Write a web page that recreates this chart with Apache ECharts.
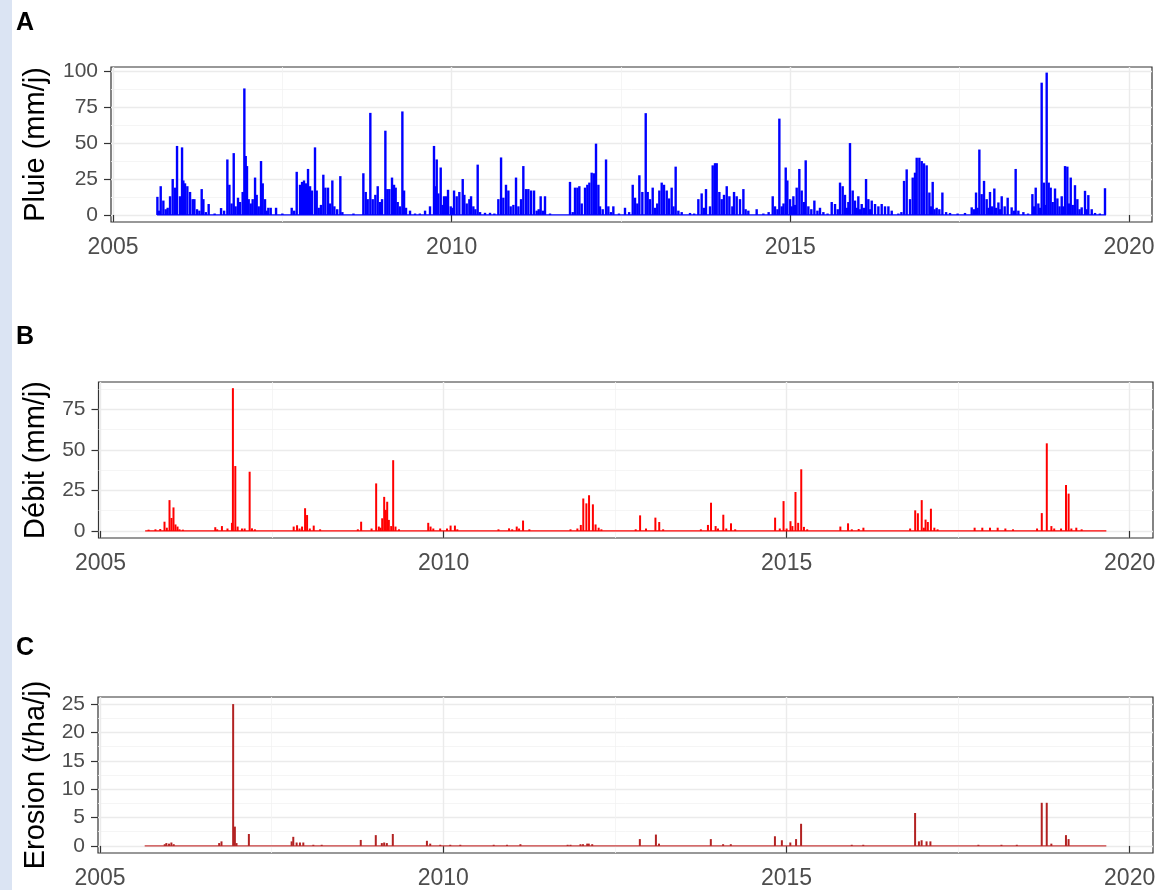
<!DOCTYPE html>
<html><head><meta charset="utf-8">
<script src="https://cdn.jsdelivr.net/npm/echarts@6/dist/echarts.min.js"></script>
<style>
html,body{margin:0;padding:0;background:#fff;}
#strip{position:absolute;left:0;top:0;width:12px;height:890px;background:#dbe4f3;}
#c{position:absolute;left:0;top:0;width:1160px;height:890px;}
</style>
</head><body><div id="strip"></div><div id="c"></div>
<script>
// ---- axes ----
const xMajorTicks = [2005, 2010, 2015, 2020];
const xMinorTicks = [2007.5, 2012.5, 2017.5];
const xRange = [2004.97, 2020.34];
const seriesSpan = [2005.65, 2019.66];   // first and last day of record (decimal years)

const panelTags = ['A', 'B', 'C'];
const yTitles = ['Pluie (mm/j)', 'Débit (mm/j)', 'Erosion (t/ha/j)'];
const yMajorA = [0, 25, 50, 75, 100], yMinorA = [12.5, 37.5, 62.5, 87.5], yRangeA = [-4.9, 102.9];
const yMajorB = [0, 25, 50, 75], yMinorB = [12.5, 37.5, 62.5, 87.5], yRangeB = [-4.35, 91.8];
const yMajorC = [0, 5, 10, 15, 20, 25], yMinorC = [2.5, 7.5, 12.5, 17.5, 22.5], yRangeC = [-1.25, 26.25];

// ---- data: [decimal year, value] ----
const rain = [
[2005.655,12.6],[2005.68,3],[2005.704,20],[2005.743,10],[2005.778,4],[2005.807,5],[2005.842,13],[2005.881,25],[2005.915,19],
[2005.945,48],[2005.989,13],[2006.019,47],[2006.038,24],[2006.063,22],[2006.097,20],[2006.137,16],[2006.176,11],
[2006.201,11],[2006.24,4],[2006.275,3],[2006.309,18],[2006.334,11],[2006.37,2],[2006.412,7.6],[2006.50,1],[2006.595,4.8],[2006.64,3],
[2006.688,38.6],[2006.718,21],[2006.75,8],[2006.782,43],[2006.81,6],[2006.845,12],
[2006.875,9],[2006.914,16],[2006.939,88],[2006.959,41],[2006.978,34],[2007.003,11],[2007.033,8],[2007.062,11],
[2007.097,26],[2007.121,14],[2007.151,6],[2007.185,37.5],[2007.210,22],[2007.244,11],[2007.268,3],[2007.293,5],[2007.328,5],
[2007.407,5],[2007.50,1],[2007.638,5],[2007.675,3],[2007.712,30],[2007.761,21],[2007.791,23],[2007.820,24],[2007.850,22],[2007.879,32],
[2007.909,20],[2007.938,17],[2007.982,47],[2008.007,17],[2008.037,5],[2008.07,7],[2008.105,28],[2008.135,19],[2008.174,19],
[2008.204,8],[2008.238,24],[2008.268,6],[2008.31,4],[2008.356,27],[2008.386,2],[2008.55,1],[2008.696,29],[2008.731,16],[2008.760,11],
[2008.799,71],[2008.834,11],[2008.873,14],[2008.908,20],[2008.942,9],[2008.972,11],[2009.021,58.6],[2009.050,18],
[2009.080,18],[2009.119,26],[2009.149,21],[2009.173,19],[2009.203,9],[2009.237,6],[2009.272,72],[2009.297,17],
[2009.326,5],[2009.385,3],[2009.459,1],[2009.53,1],[2009.607,3],[2009.680,6],[2009.739,48],[2009.759,20],[2009.779,38.6],
[2009.803,15],[2009.838,33],[2009.865,7],[2009.887,13],[2009.917,13],[2009.946,17.5],[2009.986,6],[2010.01,5],[2010.035,17],[2010.074,13],
[2010.113,16],[2010.163,25],[2010.187,14],[2010.222,8],[2010.261,11],[2010.286,13],[2010.320,6],[2010.35,4],[2010.384,35],
[2010.419,2],[2010.492,1.5],[2010.566,1.5],[2010.63,1],[2010.689,11],[2010.729,40],[2010.763,12],[2010.802,21],[2010.837,17],
[2010.871,6],[2010.911,7],[2010.950,26],[2010.985,6],[2011.024,11],[2011.058,34],[2011.098,18],[2011.132,18],
[2011.172,17],[2011.216,17],[2011.255,3],[2011.285,4],[2011.314,13],[2011.345,3],[2011.378,13],[2011.452,1],[2011.747,23],[2011.787,2],
[2011.821,19],[2011.856,19],[2011.885,20],[2011.920,8],[2011.969,19],[2012.003,21],[2012.033,22.5],[2012.067,29.4],
[2012.102,29],[2012.131,49.6],[2012.166,21],[2012.190,6],[2012.23,4],[2012.279,38.6],[2012.313,6],[2012.35,2],[2012.387,6],[2012.47,1],[2012.559,5],[2012.62,2],
[2012.673,21],[2012.707,12],[2012.741,8],[2012.771,27.6],[2012.815,16],[2012.865,70.8],[2012.894,16],[2012.928,11],
[2012.968,19],[2013.002,5],[2013.035,8],[2013.066,17],[2013.101,22.5],[2013.135,21],[2013.175,17],[2013.209,11.5],[2013.248,19],
[2013.275,6],[2013.307,33.6],[2013.347,3],[2013.396,2],[2013.519,1.4],[2013.58,1],[2013.642,11],[2013.691,15],[2013.725,5],[2013.755,18],[2013.814,6],
[2013.854,34.5],[2013.888,36],[2013.913,36],[2013.952,16],[2013.987,11],[2014.021,14],[2014.061,20],[2014.100,13],
[2014.144,6],[2014.169,16],[2014.208,13],[2014.257,11],[2014.307,18],[2014.34,4],[2014.380,3],[2014.503,4],[2014.602,1],[2014.68,2],
[2014.740,13],[2014.774,6],[2014.81,4],[2014.838,67],[2014.873,6],[2014.90,8],[2014.932,33],[2014.956,24],[2014.996,11],[2015.02,6],[2015.045,13],
[2015.07,7],[2015.094,19],[2015.133,32],[2015.168,17],[2015.202,9],[2015.227,38],[2015.266,6],[2015.31,4],[2015.355,10],[2015.40,3],[2015.438,5],
[2015.488,2],[2015.55,1],[2015.611,9],[2015.660,7.6],[2015.70,4],[2015.734,22.5],[2015.773,20],[2015.807,14],[2015.835,5],[2015.857,9],[2015.881,50],
[2015.921,17],[2015.955,10],[2015.98,5],[2016.004,13],[2016.03,4],[2016.054,7.6],[2016.085,5],[2016.118,25],[2016.152,11],[2016.178,4],[2016.202,10],[2016.251,7.6],
[2016.300,6],[2016.349,7.6],[2016.398,6],[2016.448,6],[2016.497,3],[2016.595,1],[2016.64,2],[2016.679,23.7],[2016.718,31.7],
[2016.767,11],[2016.807,26],[2016.841,29.4],[2016.866,39.8],[2016.905,39.8],[2016.940,37.5],[2016.974,35.9],[2017.013,34.5],
[2017.053,15.6],[2017.08,6],[2017.102,23],[2017.13,4],[2017.161,5],[2017.20,4],[2017.245,15.6],[2017.30,2],[2017.358,1.4],[2017.47,1],[2017.579,1.4],[2017.678,5.3],[2017.71,4],[2017.742,15.6],
[2017.765,5],[2017.791,45.5],[2017.825,14.5],[2017.860,23.7],[2017.899,11],[2017.925,5],[2017.948,16],[2017.98,6],[2018.012,18.4],[2018.04,5],[2018.072,8.7],[2018.095,4],[2018.121,13],
[2018.165,6],[2018.209,12],[2018.268,5.3],[2018.30,3],[2018.327,32],[2018.367,3],[2018.441,2],[2018.51,1],[2018.574,14.5],[2018.60,6],[2018.623,19],[2018.662,8],
[2018.69,5],[2018.711,92],[2018.746,22.5],[2018.765,7],[2018.785,99],[2018.815,22.5],[2018.844,19],[2018.874,9],[2018.908,18.4],[2018.943,11.5],
[2018.975,6],[2019.007,13],[2019.03,6],[2019.056,34],[2019.090,33.6],[2019.115,8],[2019.140,26],[2019.17,7],[2019.203,20.7],[2019.238,11],[2019.27,4],[2019.302,5.3],[2019.351,16.8],
[2019.375,4],[2019.400,13.8],[2019.45,4],[2019.499,1.4],[2019.57,1],[2019.646,18.6]
];
const discharge = [
[2005.70,0.8],[2005.80,1],[2005.87,1.2],[2005.932,5.7],[2005.966,2],[2006.005,19],[2006.034,8],[2006.063,14.5],[2006.092,4],[2006.122,2.7],[2006.151,1],[2006.20,0.8],
[2006.672,2.3],[2006.70,1],[2006.769,3],[2006.85,1.5],[2006.915,5],[2006.929,88],[2006.964,40],[2006.998,2.7],[2007.061,1.5],[2007.10,1.5],[2007.173,36.5],
[2007.207,1.6],[2007.25,1],[2007.815,2.7],[2007.864,3.5],[2007.90,1.5],[2007.937,2.7],[2007.981,14],[2008.010,9.8],[2008.05,1.5],[2008.107,3.3],[2008.20,1],[2008.75,1],[2008.798,5.7],
[2008.95,1.5],[2009.017,29.3],[2009.056,2.7],[2009.08,2],[2009.105,7.8],[2009.134,21],[2009.158,13],[2009.178,18],[2009.202,6.8],[2009.236,3],
[2009.265,43.6],[2009.299,2.7],[2009.35,1],[2009.776,5],[2009.810,2.7],[2009.85,1.5],[2009.95,1.5],[2010.05,1.5],[2010.102,3.3],[2010.165,3.3],[2010.20,1],[2010.80,1],[2010.954,1.6],[2011.00,1],[2011.066,2.7],[2011.10,1.5],
[2011.158,6.4],[2011.25,1],[2011.85,1],[2011.95,1.5],[2012.000,3.7],[2012.036,20],[2012.081,17],[2012.120,22],[2012.176,16.4],[2012.215,4],[2012.260,2],[2012.30,1],
[2012.80,1],[2012.864,9.6],[2012.95,1.5],[2013.087,8.2],[2013.143,5.5],[2013.20,1],[2013.75,1],[2013.853,3.7],[2013.898,17.4],[2013.965,3],[2014.00,1.5],[2014.077,10],[2014.12,1.5],[2014.189,4.7],[2014.25,1],
[2014.832,8.2],[2014.90,1.5],[2014.955,18.4],[2015.00,1.5],[2015.056,6],[2015.084,3],[2015.129,24],[2015.168,5],[2015.213,38],[2015.252,2.5],[2015.30,1],
[2015.783,2.7],[2015.895,4.7],[2015.95,1],[2016.05,1.2],[2016.119,2],[2016.80,1.5],[2016.874,12.7],[2016.913,10.9],[2016.969,19],[2017.00,2],[2017.025,7],[2017.058,5.5],
[2017.103,13.7],[2017.153,2],[2017.20,1],[2017.740,2],[2017.852,2],[2017.964,2],[2018.076,2],[2018.188,1.5],[2018.30,1],[2018.65,1.5],[2018.719,11],
[2018.792,54],[2018.859,3],[2018.90,1.5],[2019.00,1.5],[2019.072,28.3],[2019.110,23],[2019.15,1.5],[2019.222,2],[2019.30,1]
];
const erosion = [
[2005.942,0.3],[2005.966,0.5],[2006.005,0.4],[2006.039,0.6],[2006.073,0.3],[2006.735,0.5],[2006.769,0.8],[2006.939,25],
[2006.964,3.4],[2006.988,0.5],[2007.168,2.1],[2007.791,0.8],[2007.815,1.6],[2007.864,0.6],[2007.912,0.6],[2007.961,0.6],
[2008.107,0.2],[2008.229,0.2],[2008.798,1.05],[2009.017,1.9],[2009.105,0.5],[2009.139,0.6],[2009.178,0.5],[2009.265,2.1],
[2009.762,0.9],[2009.810,0.4],[2009.956,0.2],[2010.102,0.2],[2010.248,0.2],[2010.735,0.2],[2010.929,0.2],[2011.124,0.3],
[2011.812,0.2],[2011.854,0.2],[2011.999,0.3],[2012.036,0.3],[2012.097,0.4],[2012.120,0.4],[2012.170,0.3],[2012.864,1.2],
[2013.098,2.0],[2013.143,0.4],[2013.898,1.2],[2014.077,0.3],[2014.189,0.3],[2014.832,1.7],[2014.933,1.0],[2015.056,0.6],
[2015.140,1.2],[2015.213,3.9],[2015.951,0.2],[2016.119,0.2],[2016.874,5.8],[2016.930,0.8],[2016.969,1.0],[2017.041,0.8],
[2017.097,0.8],[2017.796,0.2],[2018.132,0.2],[2018.356,0.2],[2018.719,7.6],[2018.792,7.6],[2018.859,0.4],[2019.072,1.9],
[2019.110,1.2]
];

// ---- layout / style ----
const FONT = '"Liberation Sans", Arial, sans-serif';
const grids = [
  {left: 111, top: 67, width: 1041, height: 155},
  {left: 98.5, top: 382, width: 1054.5, height: 156},
  {left: 98, top: 697, width: 1055, height: 157}
];
const panels = [
  {data: rain, color: '#0000FF', base: '#0000FF', yr: yRangeA, maj: yMajorA, min: yMinorA, bw: 2.4},
  {data: discharge, color: '#FF0000', base: '#FF0000', yr: yRangeB, maj: yMajorB, min: yMinorB, bw: 2},
  {data: erosion, color: '#B22222', base: '#C83C3C', yr: yRangeC, maj: yMajorC, min: yMinorC, bw: 2}
];
const tagTops = [11, 325, 636];

const option = {
  animation: false,
  backgroundColor: 'transparent',
  textStyle: {fontFamily: FONT},
  title: panelTags.map((t, i) => ({text: t, left: 16, top: tagTops[i], padding: 0,
    textStyle: {fontSize: 25, fontWeight: 'bold', color: '#000', fontFamily: FONT}})),
  grid: grids.map(g => Object.assign({show: true, borderColor: '#333333', borderWidth: 1.2, backgroundColor: 'transparent', containLabel: false}, g)),
  xAxis: [], yAxis: [], series: []
};

panels.forEach((p, i) => {
  option.xAxis.push({
    type: 'value', gridIndex: i, min: xRange[0], max: xRange[1], position: 'bottom',
    axisLine: {show: false},
    axisTick: {show: true, customValues: xMajorTicks, length: 7, lineStyle: {color: '#333333', width: 1.2}},
    axisLabel: {show: true, customValues: xMajorTicks, formatter: v => String(v), fontSize: 23, color: '#4D4D4D', margin: 14, fontFamily: FONT},
    splitLine: {show: true, lineStyle: {color: '#EBEBEB', width: 1.4}}
  });
  option.xAxis.push({
    type: 'value', gridIndex: i, min: xRange[0], max: xRange[1], position: 'bottom',
    axisLine: {show: false}, axisLabel: {show: false},
    axisTick: {show: false, customValues: xMinorTicks},
    splitLine: {show: true, lineStyle: {color: '#F2F2F2', width: 0.8}}
  });
  option.yAxis.push({
    type: 'value', gridIndex: i, min: p.yr[0], max: p.yr[1], position: 'left',
    name: yTitles[i], nameLocation: 'middle', nameGap: grids[i].left - 50,
    nameTextStyle: {fontSize: 29, color: '#000', fontFamily: FONT},
    axisLine: {show: false},
    axisTick: {show: true, customValues: p.maj, length: 7, lineStyle: {color: '#333333', width: 1.2}},
    axisLabel: {show: true, customValues: p.maj, fontSize: 21, color: '#4D4D4D', margin: 13, fontFamily: FONT},
    splitLine: {show: true, lineStyle: {color: '#EBEBEB', width: 1.4}}
  });
  option.yAxis.push({
    type: 'value', gridIndex: i, min: p.yr[0], max: p.yr[1], position: 'left',
    axisLine: {show: false}, axisLabel: {show: false},
    axisTick: {show: false, customValues: p.min},
    splitLine: {show: true, lineStyle: {color: '#F2F2F2', width: 0.8}}
  });
  option.series.push({
    type: 'line', xAxisIndex: 2 * i, yAxisIndex: 2 * i, silent: true, symbol: 'none', z: 2,
    data: [[seriesSpan[0], 0], [seriesSpan[1], 0]],
    lineStyle: {color: p.base, width: 1.3}
  });
  option.series.push({
    type: 'bar', xAxisIndex: 2 * i, yAxisIndex: 2 * i, silent: true, z: 3,
    barWidth: p.bw, data: p.data, itemStyle: {color: p.color}
  });
});

const chart = echarts.init(document.getElementById('c'), null, {renderer: 'canvas'});
chart.setOption(option);
</script>
</body></html>
